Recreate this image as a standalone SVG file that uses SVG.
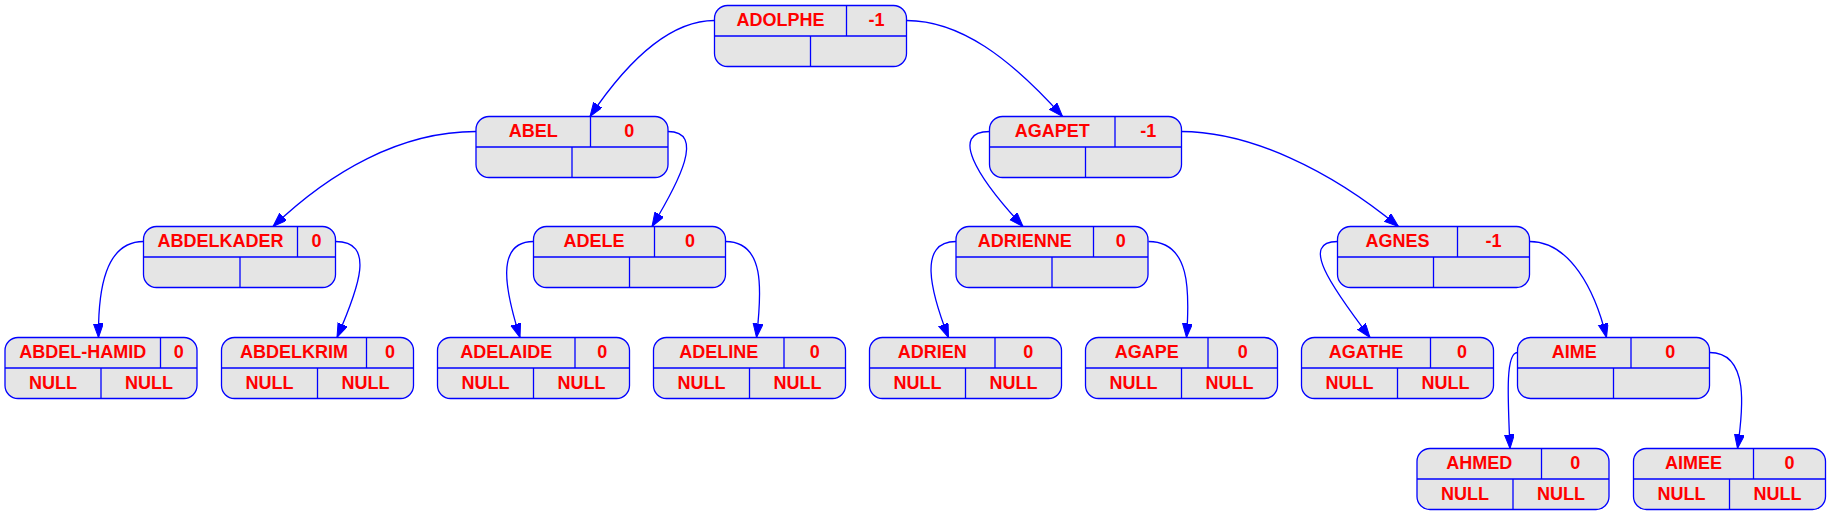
<svg xmlns="http://www.w3.org/2000/svg" width="1831" height="516" viewBox="0 0 1831 516">
<style>
.box{fill:#e5e5e5;stroke:#0000ff;stroke-width:1.3}
.sep{stroke:#0000ff;stroke-width:1.3}
text{font-family:"Liberation Sans",Arial,sans-serif;font-weight:bold;font-size:18px;fill:#ff0000;text-anchor:middle}
.edge{fill:none;stroke:#0000ff;stroke-width:1.3}
</style>
<defs>
<marker id="arr" markerUnits="userSpaceOnUse" markerWidth="15" markerHeight="11" refX="14" refY="5" orient="auto" viewBox="0 0 15 11">
<path d="M0,0 L14,5 L0,10 z" fill="#0000ff" stroke="#0000ff" stroke-width="1"/>
</marker>
</defs>
<g id="edges">
<path class="edge" marker-end="url(#arr)" d="M714.5,20.5 C664,20.5 620,72 590,116.5"/>
<path class="edge" marker-end="url(#arr)" d="M906.5,20.5 C960,20.5 1010,58 1062.5,116.5"/>
<path class="edge" marker-end="url(#arr)" d="M476,131.5 C400,131.5 330,172 273,226.5"/>
<path class="edge" marker-end="url(#arr)" d="M668,131.5 C705,131.5 680,180 652,226.5"/>
<path class="edge" marker-end="url(#arr)" d="M989.5,131.5 C950,131.5 975,175 1023,226.5"/>
<path class="edge" marker-end="url(#arr)" d="M1181,131.5 C1250,131.5 1330,170 1398.5,226.5"/>
<path class="edge" marker-end="url(#arr)" d="M143.5,241.5 C105,241.5 98,290 98.5,337.5"/>
<path class="edge" marker-end="url(#arr)" d="M335.5,241.5 C375,241.5 360,285 337,337.5"/>
<path class="edge" marker-end="url(#arr)" d="M533.5,241.5 C495,241.5 505,290 520,337.5"/>
<path class="edge" marker-end="url(#arr)" d="M725.5,241.5 C765,241.5 762,290 756.5,337.5"/>
<path class="edge" marker-end="url(#arr)" d="M956,241.5 C918,241.5 930,290 948.5,337.5"/>
<path class="edge" marker-end="url(#arr)" d="M1148.5,241.5 C1190,241.5 1190,290 1186.5,337.5"/>
<path class="edge" marker-end="url(#arr)" d="M1337.5,241.5 C1300,241.5 1330,285 1370,337.5"/>
<path class="edge" marker-end="url(#arr)" d="M1529.5,241.5 C1570,241.5 1595,290 1606.5,337.5"/>
<path class="edge" marker-end="url(#arr)" d="M1517.5,352.5 C1505,352.5 1508,400 1510,448.5"/>
<path class="edge" marker-end="url(#arr)" d="M1709.5,352.5 C1750,352.5 1743,410 1737.5,448.5"/>
</g>
<g id="n_ADOLPHE">
<rect class="box" x="714.5" y="5.5" width="192" height="61" rx="13"/>
<line class="sep" x1="714.5" y1="36" x2="906.5" y2="36"/>
<line class="sep" x1="846.5" y1="5.5" x2="846.5" y2="36"/>
<line class="sep" x1="810.5" y1="36" x2="810.5" y2="66.5"/>
<text x="780.5" y="26">ADOLPHE</text><text x="876.5" y="26">-1</text>
</g>
<g id="n_ABEL">
<rect class="box" x="476" y="116.5" width="192" height="61" rx="13"/>
<line class="sep" x1="476" y1="147" x2="668" y2="147"/>
<line class="sep" x1="590.5" y1="116.5" x2="590.5" y2="147"/>
<line class="sep" x1="572" y1="147" x2="572" y2="177.5"/>
<text x="533.25" y="137">ABEL</text><text x="629.25" y="137">0</text>
</g>
<g id="n_AGAPET">
<rect class="box" x="989.5" y="116.5" width="192" height="61" rx="13"/>
<line class="sep" x1="989.5" y1="147" x2="1181.5" y2="147"/>
<line class="sep" x1="1115" y1="116.5" x2="1115" y2="147"/>
<line class="sep" x1="1085.5" y1="147" x2="1085.5" y2="177.5"/>
<text x="1052.25" y="137">AGAPET</text><text x="1148.25" y="137">-1</text>
</g>
<g id="n_ABDELKADER">
<rect class="box" x="143.5" y="226.5" width="192" height="61" rx="13"/>
<line class="sep" x1="143.5" y1="257" x2="335.5" y2="257"/>
<line class="sep" x1="297.5" y1="226.5" x2="297.5" y2="257"/>
<line class="sep" x1="240" y1="257" x2="240" y2="287.5"/>
<text x="220.5" y="247">ABDELKADER</text><text x="316.5" y="247">0</text>
</g>
<g id="n_ADELE">
<rect class="box" x="533.5" y="226.5" width="192" height="61" rx="13"/>
<line class="sep" x1="533.5" y1="257" x2="725.5" y2="257"/>
<line class="sep" x1="654.5" y1="226.5" x2="654.5" y2="257"/>
<line class="sep" x1="629.5" y1="257" x2="629.5" y2="287.5"/>
<text x="594" y="247">ADELE</text><text x="690" y="247">0</text>
</g>
<g id="n_ADRIENNE">
<rect class="box" x="956" y="226.5" width="192" height="61" rx="13"/>
<line class="sep" x1="956" y1="257" x2="1148" y2="257"/>
<line class="sep" x1="1093.5" y1="226.5" x2="1093.5" y2="257"/>
<line class="sep" x1="1052" y1="257" x2="1052" y2="287.5"/>
<text x="1024.75" y="247">ADRIENNE</text><text x="1120.75" y="247">0</text>
</g>
<g id="n_AGNES">
<rect class="box" x="1337.5" y="226.5" width="192" height="61" rx="13"/>
<line class="sep" x1="1337.5" y1="257" x2="1529.5" y2="257"/>
<line class="sep" x1="1457.5" y1="226.5" x2="1457.5" y2="257"/>
<line class="sep" x1="1433.5" y1="257" x2="1433.5" y2="287.5"/>
<text x="1397.5" y="247">AGNES</text><text x="1493.5" y="247">-1</text>
</g>
<g id="n_ABDEL-HAMID">
<rect class="box" x="5" y="337.5" width="192" height="61" rx="13"/>
<line class="sep" x1="5" y1="368" x2="197" y2="368"/>
<line class="sep" x1="160.5" y1="337.5" x2="160.5" y2="368"/>
<line class="sep" x1="101" y1="368" x2="101" y2="398.5"/>
<text x="82.75" y="358">ABDEL-HAMID</text><text x="178.75" y="358">0</text>
<text x="53" y="388.5">NULL</text><text x="149" y="388.5">NULL</text>
</g>
<g id="n_ABDELKRIM">
<rect class="box" x="221.5" y="337.5" width="192" height="61" rx="13"/>
<line class="sep" x1="221.5" y1="368" x2="413.5" y2="368"/>
<line class="sep" x1="366.5" y1="337.5" x2="366.5" y2="368"/>
<line class="sep" x1="317.5" y1="368" x2="317.5" y2="398.5"/>
<text x="294" y="358">ABDELKRIM</text><text x="390" y="358">0</text>
<text x="269.5" y="388.5">NULL</text><text x="365.5" y="388.5">NULL</text>
</g>
<g id="n_ADELAIDE">
<rect class="box" x="437.5" y="337.5" width="192" height="61" rx="13"/>
<line class="sep" x1="437.5" y1="368" x2="629.5" y2="368"/>
<line class="sep" x1="575" y1="337.5" x2="575" y2="368"/>
<line class="sep" x1="533.5" y1="368" x2="533.5" y2="398.5"/>
<text x="506.25" y="358">ADELAIDE</text><text x="602.25" y="358">0</text>
<text x="485.5" y="388.5">NULL</text><text x="581.5" y="388.5">NULL</text>
</g>
<g id="n_ADELINE">
<rect class="box" x="653.5" y="337.5" width="192" height="61" rx="13"/>
<line class="sep" x1="653.5" y1="368" x2="845.5" y2="368"/>
<line class="sep" x1="784" y1="337.5" x2="784" y2="368"/>
<line class="sep" x1="749.5" y1="368" x2="749.5" y2="398.5"/>
<text x="718.75" y="358">ADELINE</text><text x="814.75" y="358">0</text>
<text x="701.5" y="388.5">NULL</text><text x="797.5" y="388.5">NULL</text>
</g>
<g id="n_ADRIEN">
<rect class="box" x="869.5" y="337.5" width="192" height="61" rx="13"/>
<line class="sep" x1="869.5" y1="368" x2="1061.5" y2="368"/>
<line class="sep" x1="995" y1="337.5" x2="995" y2="368"/>
<line class="sep" x1="965.5" y1="368" x2="965.5" y2="398.5"/>
<text x="932.25" y="358">ADRIEN</text><text x="1028.25" y="358">0</text>
<text x="917.5" y="388.5">NULL</text><text x="1013.5" y="388.5">NULL</text>
</g>
<g id="n_AGAPE">
<rect class="box" x="1085.5" y="337.5" width="192" height="61" rx="13"/>
<line class="sep" x1="1085.5" y1="368" x2="1277.5" y2="368"/>
<line class="sep" x1="1208" y1="337.5" x2="1208" y2="368"/>
<line class="sep" x1="1181.5" y1="368" x2="1181.5" y2="398.5"/>
<text x="1146.75" y="358">AGAPE</text><text x="1242.75" y="358">0</text>
<text x="1133.5" y="388.5">NULL</text><text x="1229.5" y="388.5">NULL</text>
</g>
<g id="n_AGATHE">
<rect class="box" x="1301.5" y="337.5" width="192" height="61" rx="13"/>
<line class="sep" x1="1301.5" y1="368" x2="1493.5" y2="368"/>
<line class="sep" x1="1430.5" y1="337.5" x2="1430.5" y2="368"/>
<line class="sep" x1="1397.5" y1="368" x2="1397.5" y2="398.5"/>
<text x="1366" y="358">AGATHE</text><text x="1462" y="358">0</text>
<text x="1349.5" y="388.5">NULL</text><text x="1445.5" y="388.5">NULL</text>
</g>
<g id="n_AIME">
<rect class="box" x="1517.5" y="337.5" width="192" height="61" rx="13"/>
<line class="sep" x1="1517.5" y1="368" x2="1709.5" y2="368"/>
<line class="sep" x1="1631" y1="337.5" x2="1631" y2="368"/>
<line class="sep" x1="1613.5" y1="368" x2="1613.5" y2="398.5"/>
<text x="1574.25" y="358">AIME</text><text x="1670.25" y="358">0</text>
</g>
<g id="n_AHMED">
<rect class="box" x="1417" y="448.5" width="192" height="61" rx="13"/>
<line class="sep" x1="1417" y1="479" x2="1609" y2="479"/>
<line class="sep" x1="1541.5" y1="448.5" x2="1541.5" y2="479"/>
<line class="sep" x1="1513" y1="479" x2="1513" y2="509.5"/>
<text x="1479.25" y="469">AHMED</text><text x="1575.25" y="469">0</text>
<text x="1465" y="499.5">NULL</text><text x="1561" y="499.5">NULL</text>
</g>
<g id="n_AIMEE">
<rect class="box" x="1633.5" y="448.5" width="192" height="61" rx="13"/>
<line class="sep" x1="1633.5" y1="479" x2="1825.5" y2="479"/>
<line class="sep" x1="1753.5" y1="448.5" x2="1753.5" y2="479"/>
<line class="sep" x1="1729.5" y1="479" x2="1729.5" y2="509.5"/>
<text x="1693.5" y="469">AIMEE</text><text x="1789.5" y="469">0</text>
<text x="1681.5" y="499.5">NULL</text><text x="1777.5" y="499.5">NULL</text>
</g>
</svg>
